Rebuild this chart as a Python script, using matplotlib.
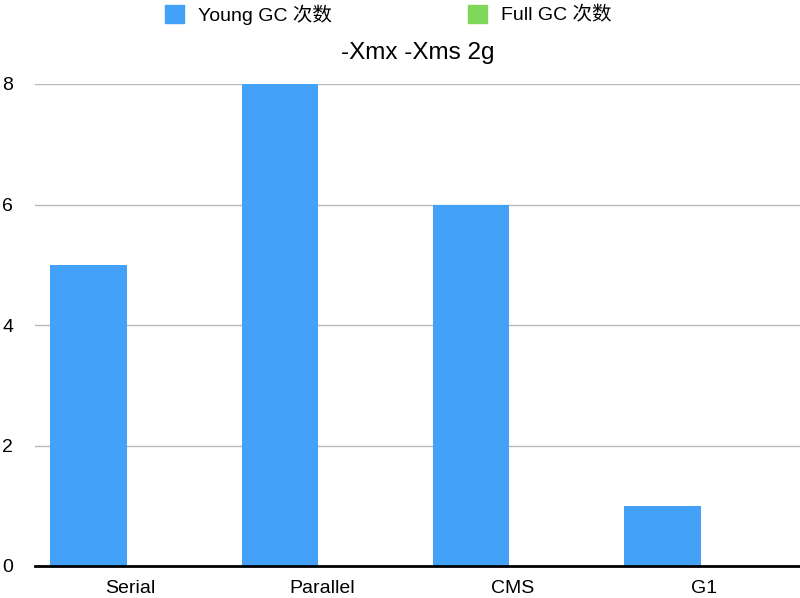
import numpy as np
import matplotlib
matplotlib.use('Agg')
import matplotlib.pyplot as plt
from matplotlib.patches import Patch

plt.rcParams['font.family'] = ['Liberation Sans', 'Noto Sans CJK SC', 'DejaVu Sans']

categories = ['Serial', 'Parallel', 'CMS', 'G1']
young_gc = [5, 8, 6, 1]
full_gc = [0, 0, 0, 0]
series_names = ['Young GC 次数', 'Full GC 次数']
colors = ['#43A2F8', '#80D85A']
title = '-Xmx -Xms 2g'

fig = plt.figure(figsize=(8, 5.98), dpi=100)
ax = fig.add_axes([35 / 800, 32 / 598, 765 / 800, 482 / 598])

x = np.arange(len(categories))
width = 0.40
ax.bar(x - 0.22, young_gc, width, color=colors[0], zorder=2)
ax.bar(x + 0.20, full_gc, width, color=colors[1], zorder=2)

ax.set_xlim(-0.5, len(categories) - 0.5)
ax.set_ylim(0, 8)
ax.set_yticks([0, 2, 4, 6, 8])
ax.set_xticks(x)
ax.set_xticklabels(categories)
ax.yaxis.grid(True, color='#b8b8b8', linewidth=1.0, zorder=0)
ax.set_axisbelow(True)
for s in ['top', 'right', 'left']:
    ax.spines[s].set_visible(False)
ax.spines['bottom'].set_linewidth(2)
ax.spines['bottom'].set_color('black')
ax.spines['bottom'].set_zorder(3)
ax.tick_params(axis='both', length=0, labelsize=14)
ax.tick_params(axis='x', pad=10)
for lbl in ax.get_yticklabels():
    lbl.set_horizontalalignment('left')
    lbl.set_x(-0.043)
ax.tick_params(axis='y', pad=0)

ax.set_title(title, fontsize=17.5, pad=18)

handles = [Patch(color=colors[i], label=series_names[i]) for i in range(2)]
fig.legend(handles=handles, loc='upper center', bbox_to_anchor=(388 / 800, 1.022),
           ncol=2, frameon=False, fontsize=14, handlelength=1.0, handleheight=1.1,
           handletextpad=0.7, columnspacing=7.0)

plt.savefig('out.png', dpi=100)
